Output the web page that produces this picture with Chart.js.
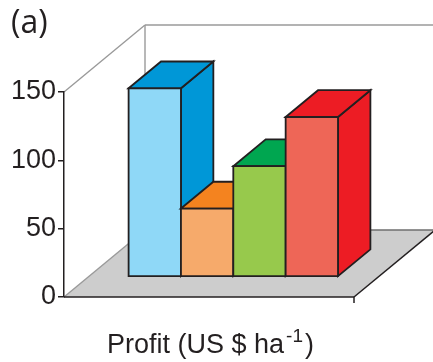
<!DOCTYPE html>
<html>
<head>
<meta charset="utf-8">
<script src="https://cdn.jsdelivr.net/npm/chart.js@4.4.0/dist/chart.umd.min.js"></script>
<style>
  html, body { margin: 0; padding: 0; background: #fff; }
</style>
</head>
<body>
<canvas id="canvas" width="433" height="362"></canvas>
<script>
// treatments (not labelled on the chart) and their profit
var treatments = ['T1', 'T2', 'T3', 'T4'];
var profit = [138, 50, 81, 117];
var yTicks = [0, 50, 100, 150];

var frontColors = ['#8FD8F7', '#F6AA6B', '#97C94C', '#EE6657'];
var topColors = ['#0097D7', '#F4831F', '#00A650', '#ED1C24'];
var sideColors = ['#0097D7', '#F4831F', '#00A650', '#ED1C24'];

// oblique depth of the box, and where the bars sit inside it
var depth = { x: 81, y: -67 };
var barFront = 0.3;
var barBack = 0.7;
var ink = '#231F20';

function poly(ctx, pts, fill) {
    ctx.beginPath();
    ctx.moveTo(pts[0][0], pts[0][1]);
    for (var i = 1; i < pts.length; i++) ctx.lineTo(pts[i][0], pts[i][1]);
    ctx.closePath();
    ctx.fillStyle = fill;
    ctx.fill();
    ctx.stroke();
}

function line(ctx, x0, y0, x1, y1, color, w) {
    ctx.beginPath();
    ctx.moveTo(x0, y0);
    ctx.lineTo(x1, y1);
    ctx.strokeStyle = color;
    ctx.lineWidth = w;
    ctx.stroke();
}

var box3d = {
    id: 'box3d',
    beforeDraw: function(chart) {
        var ctx = chart.ctx, a = chart.chartArea;
        var L = a.left, R = a.right, T = a.top, B = a.bottom;
        var dx = depth.x, dy = depth.y;
        ctx.save();
        // floor
        ctx.beginPath();
        ctx.moveTo(L, B);
        ctx.lineTo(R, B);
        ctx.lineTo(R + dx, B + dy);
        ctx.lineTo(L + dx, B + dy);
        ctx.closePath();
        ctx.fillStyle = '#CDCDCD';
        ctx.fill();
        // walls
        line(ctx, L, T, L + dx, T + dy, '#9A9A9A', 1.4);
        line(ctx, L + dx, T + dy, chart.width + 5, T + dy, '#9A9A9A', 1.4);
        line(ctx, L + dx, T + dy, L + dx, B + dy, '#9A9A9A', 1.4);
        line(ctx, L, B, L + dx, B + dy, '#9A9A9A', 1.4);
        line(ctx, L + dx, B + dy, R + dx, B + dy, '#6E6E6E', 1.4);
        // floor edges
        line(ctx, L, B, R, B, ink, 1.5);
        line(ctx, R, B, R + dx, B + dy, ink, 1.5);
        line(ctx, R, B, R, B + 6, ink, 1.5);
        ctx.restore();
    },
    beforeDatasetsDraw: function(chart) {
        var ctx = chart.ctx;
        var meta = chart.getDatasetMeta(0);
        var ddx = depth.x * (barBack - barFront);
        var ddy = depth.y * (barBack - barFront);
        ctx.save();
        ctx.strokeStyle = ink;
        ctx.lineWidth = 1.8;
        ctx.lineJoin = 'miter';
        // left to right, so each front face hides the previous bar's side
        meta.data.forEach(function(bar, i) {
            var p = bar.getProps(['x', 'y', 'base', 'width'], true);
            var x0 = p.x - p.width / 2 + depth.x * barFront;
            var x1 = p.x + p.width / 2 + depth.x * barFront;
            var yt = p.y + depth.y * barFront;
            var yb = p.base + depth.y * barFront;
            poly(ctx, [[x1, yt], [x1 + ddx, yt + ddy], [x1 + ddx, yb + ddy], [x1, yb]], sideColors[i]);
            poly(ctx, [[x0, yt], [x0 + ddx, yt + ddy], [x1 + ddx, yt + ddy], [x1, yt]], topColors[i]);
            poly(ctx, [[x0, yt], [x1, yt], [x1, yb], [x0, yb]], frontColors[i]);
        });
        ctx.restore();
        return false;
    },
    afterDraw: function(chart) {
        var ctx = chart.ctx;
        ctx.save();
        ctx.fillStyle = ink;
        ctx.textBaseline = 'alphabetic';
        ctx.font = '32px "Open Sans"';
        ctx.fillText('(a)', 11, 33);

        // axis title with superscript
        var main = 'Profit (US $ ha', sup = '-1', end = ')';
        ctx.font = '27px "Liberation Sans"';
        var wMain = ctx.measureText(main).width, wEnd = ctx.measureText(end).width;
        ctx.font = '19px "Liberation Sans"';
        var wSup = ctx.measureText(sup).width;
        var total = wMain + 2 + wSup + 2 + wEnd;
        var x = 210.5 - total / 2, y = 353;
        ctx.font = '27px "Liberation Sans"';
        ctx.fillText(main, x, y);
        ctx.font = '19px "Liberation Sans"';
        ctx.fillText(sup, x + wMain + 2, y - 11);
        ctx.font = '27px "Liberation Sans"';
        ctx.fillText(end, x + wMain + 2 + wSup + 2, y);
        ctx.restore();
    }
};

var ctx = document.getElementById('canvas').getContext('2d');
var chart = new Chart(ctx, {
    type: 'bar',
    data: {
        datasets: [{
            label: 'Profit',
            data: profit.map(function(v, i) { return { x: i + 1, y: v }; }),
            backgroundColor: frontColors,
            barPercentage: 1,
            categoryPercentage: 1
        }]
    },
    options: {
        responsive: false,
        animation: false,
        layout: { padding: { top: 92, bottom: 65, left: 0, right: 79 } },
        plugins: { legend: { display: false }, tooltip: { enabled: false } },
        scales: {
            x: {
                type: 'linear',
                display: false,
                offset: false,
                min: -0.27,
                max: treatments.length + 1.27
            },
            y: {
                min: 0,
                max: 150,
                afterFit: function(scale) { scale.width = 64; },
                afterBuildTicks: function(scale) {
                    scale.ticks = yTicks.map(function(v) { return { value: v }; });
                },
                border: { color: ink, width: 1.5 },
                grid: { drawOnChartArea: false, tickLength: 6, color: ink, lineWidth: 1.5 },
                ticks: {
                    padding: 2,
                    color: ink,
                    font: { family: 'Liberation Sans', size: 27 }
                }
            }
        }
    },
    plugins: [box3d]
});
</script>
</body>
</html>
